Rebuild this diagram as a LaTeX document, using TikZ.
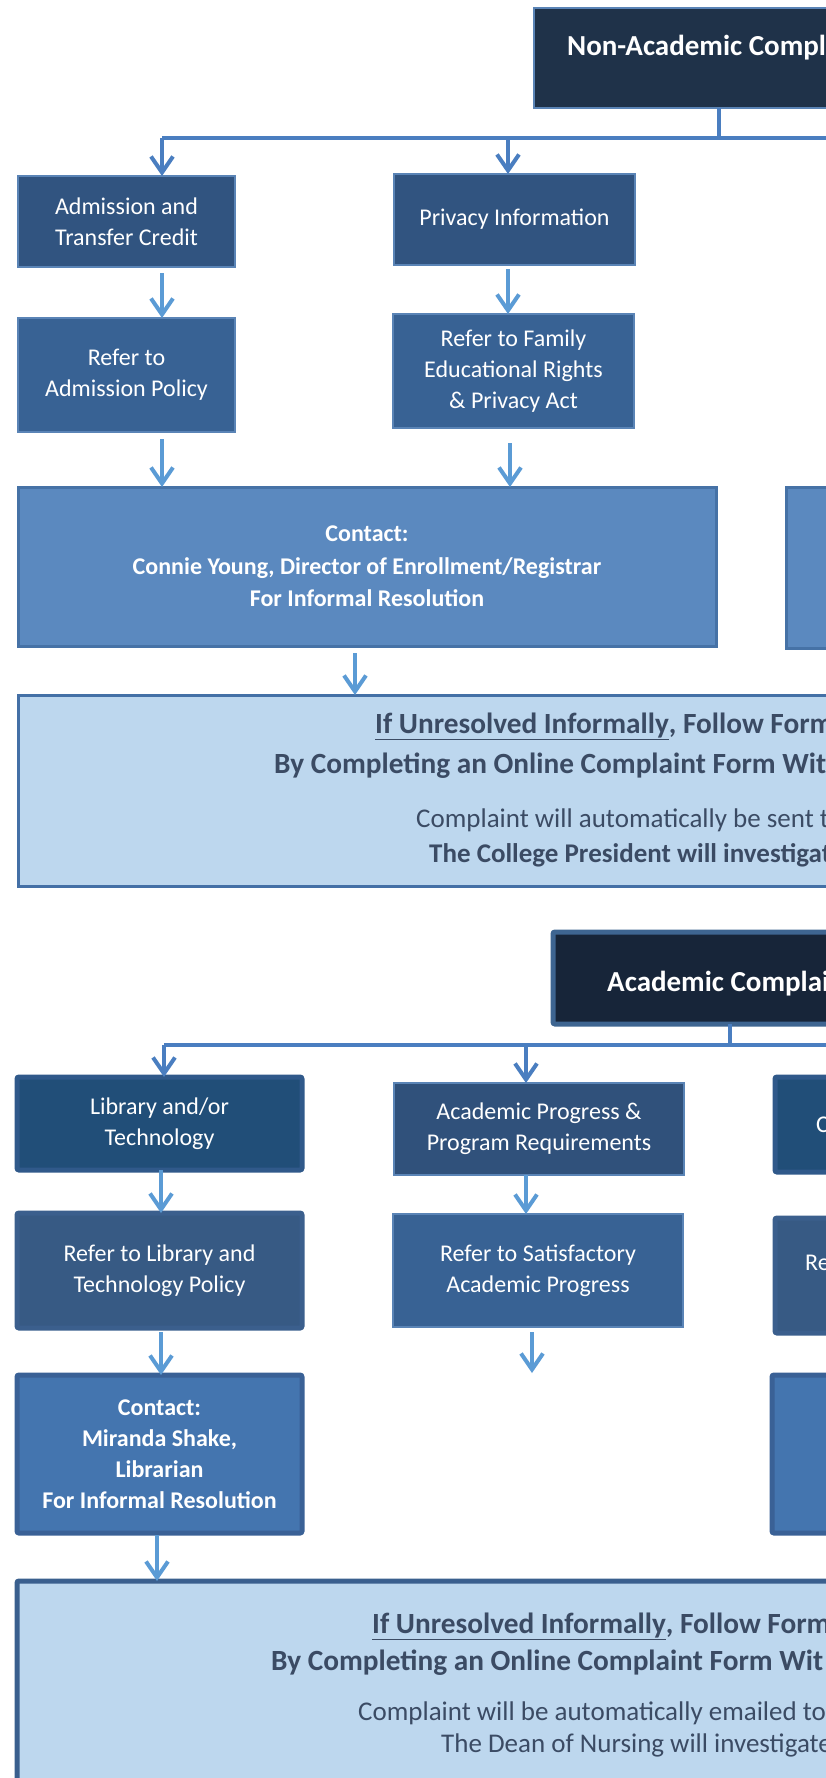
\documentclass[tikz,border=0pt]{standalone}
\usepackage{fontspec}
\setmainfont{Carlito}
\usetikzlibrary{arrows.meta,calc}
\definecolor{navyA}{HTML}{1F3249}
\definecolor{navyB}{HTML}{172539}
\definecolor{edgeLight}{HTML}{5A84B6}
\definecolor{edgeMid}{HTML}{3E6591}
\definecolor{boxA}{HTML}{315480}
\definecolor{boxB}{HTML}{386294}
\definecolor{boxC}{HTML}{5B89BF}
\definecolor{boxCedge}{HTML}{4672A6}
\definecolor{paleFill}{HTML}{BDD7EE}
\definecolor{paleEdge}{HTML}{4470A6}
\definecolor{paleEdgeB}{HTML}{3A5F8E}
\definecolor{libFill}{HTML}{214E78}
\definecolor{libEdge}{HTML}{30598A}
\definecolor{refLib}{HTML}{375A84}
\definecolor{refLibEdge}{HTML}{3B5F8D}
\definecolor{progFill}{HTML}{30517B}
\definecolor{miraFill}{HTML}{4475AF}
\definecolor{miraEdge}{HTML}{3A6196}
\definecolor{txtDark}{HTML}{3B4B64}
\definecolor{arrLight}{HTML}{5B9BD5}
\definecolor{arrDark}{HTML}{4A7EC0}
\begin{document}
\begin{tikzpicture}[x=1pt,y=-1pt,
  box/.style={rectangle,inner sep=0pt,outer sep=0pt,text=white,align=center,
    font=\fontsize{24}{31}\selectfont},
  thinbox/.style={box,draw=edgeLight,line width=2pt},
  thickbox/.style={box,line width=5pt,rounded corners=2pt},
  bigtxt/.style={anchor=base west,inner sep=0pt,text=txtDark,font=\fontsize{27}{32}\selectfont},
  bighead/.style={bigtxt,font=\fontsize{29.3}{34}\selectfont\bfseries},
  titletxt/.style={anchor=base west,inner sep=0pt,text=white,font=\fontsize{29}{34}\selectfont\bfseries},
  fragtxt/.style={anchor=base west,inner sep=0pt,text=white,font=\fontsize{24}{31}\selectfont},
  conn/.style={draw=arrDark,line width=4pt},
  arrD/.style={draw=arrDark,line width=4pt,-{Straight Barb[length=16pt,width=22pt,line width=4pt]}},
  arrL/.style={draw=arrLight,line width=4pt,-{Straight Barb[length=16pt,width=22pt,line width=4pt]}}
]
\useasboundingbox (0,0) rectangle (826,1778);
\clip (0,0) rectangle (826,1778);

% ================= Non-academic section =================
\node[box,fill=navyA,draw=edgeLight,line width=2pt,minimum width=370pt,minimum height=100pt] (t1) at (719,58) {};
\node[titletxt] (t1txt) at (567,55) {Non-Academic Compl};

\coordinate (j1) at (719,138);
\coordinate (h1L) at (162,138);
\coordinate (h1M) at (508,138);
\coordinate (h1R) at (840,138);
\draw[conn] (t1.south) -- (j1);
\draw[conn] (h1L) -- (h1R);

\node[thinbox,fill=boxA,minimum width=217pt,minimum height=91pt] (a1) at (126.5,221.5) {Admission and\\Transfer Credit};
\node[thinbox,fill=boxA,minimum width=241pt,minimum height=91pt] (a2) at (514.5,219.5) {Privacy Information};
\draw[arrD] (h1L) -- (h1L |- a1.north);
\draw[arrD] (h1M) -- (h1M |- a2.north);

\node[thinbox,fill=boxB,minimum width=217pt,minimum height=114pt] (b1) at (126.5,375) {Refer to\\Admission Policy};
\node[thinbox,fill=boxB,minimum width=241pt,minimum height=114pt] (b2) at (513.5,371) {Refer to Family\\Educational Rights\\\& Privacy Act};
\draw[arrL] ($(h1L |- a1.south)+(0,6)$) -- (h1L |- b1.north);
\draw[arrL] ($(h1M |- a2.south)+(0,4)$) -- (h1M |- b2.north);

\node[box,fill=boxC,draw=boxCedge,line width=3pt,minimum width=698pt,minimum height=159pt,font=\fontsize{24}{32.5}\selectfont\bfseries] (c1) at (367,566.5)
  {Contact:\\Connie Young, Director of Enrollment/Registrar\\For Informal Resolution};
\node[box,fill=boxC,draw=boxCedge,line width=3pt,minimum width=200pt,minimum height=161pt] (c2) at (886,567.5) {};
\draw[arrL] ($(h1L |- b1.south)+(0,7)$) -- (h1L |- c1.north);
\draw[arrL] ($(h1M |- b2.south)+(2,15)$) -- ($(h1M |- c1.north)+(2,0)$);

\node[box,fill=paleFill,draw=paleEdge,line width=3pt,minimum width=900pt,minimum height=191pt] (d1) at (468,790.5) {};
\draw[arrL] ($(c1.south)+(-12,7)$) -- ($(c1.south |- d1.north)+(-12,0)$);
\node[bighead] (d1l1) at (375,733) {\underline{If Unresolved Informally}, Follow Form};
\node[bighead] (d1l2) at (274,773) {By Completing an Online Complaint Form Wit};
\node[bigtxt] (d1l3) at (416,827) {Complaint will automatically be sent t};
\node[bigtxt,font=\fontsize{27}{32}\selectfont\bfseries] (d1l4) at (429,862) {The College President will investigat};

% ================= Academic section =================
\node[thickbox,fill=navyB,draw=edgeMid,minimum width=354pt,minimum height=92pt] (t2) at (730,978) {};
\node[titletxt] (t2txt) at (607,991) {Academic Complai};

\coordinate (j2) at (730,1045);
\coordinate (h2L) at (164,1045);
\coordinate (h2M) at (526,1045);
\coordinate (h2R) at (840,1045);
\draw[conn] (t2.south) -- (j2);
\draw[conn] (h2L) -- (h2R);

\node[thickbox,fill=libFill,draw=libEdge,minimum width=285pt,minimum height=93pt] (e1) at (159.5,1123.5) {Library and/or\\Technology};
\node[thinbox,fill=progFill,minimum width=290pt,minimum height=92pt] (e2) at (539,1129) {Academic Progress \&\\Program Requirements};
\node[thickbox,fill=libFill,draw=libEdge,minimum width=200pt,minimum height=95pt] (e3) at (875,1124.5) {};
\node[fragtxt] (e3txt) at (816,1132) {C};
\draw[arrD] (h2L) -- (h2L |- e1.north);
\draw[arrD] (h2M) -- (h2M |- e2.north);

\node[thickbox,fill=refLib,draw=refLibEdge,minimum width=285pt,minimum height=115pt] (f1) at (159.5,1270.5) {Refer to Library and\\Technology Policy};
\node[thinbox,fill=boxB,minimum width=290pt,minimum height=113pt] (f2) at (538,1270.5) {Refer to Satisfactory\\Academic Progress};
\node[thickbox,fill=refLib,draw=refLibEdge,minimum width=200pt,minimum height=115pt] (f3) at (875,1275.5) {};
\node[fragtxt] (f3txt) at (805,1270) {Re};
\coordinate (xL) at (161,0);
\coordinate (xM) at (532,0);
\draw[arrL] (xL |- e1.south) -- (xL |- f1.north);
\draw[arrL] (h2M |- e2.south) -- (h2M |- f2.north);

\node[thickbox,fill=miraFill,draw=miraEdge,minimum width=285pt,minimum height=158pt,font=\fontsize{24}{31}\selectfont\bfseries] (g1) at (159.5,1454)
  {Contact:\\Miranda Shake,\\Librarian\\For Informal Resolution};
\node[thickbox,fill=miraFill,draw=miraEdge,minimum width=200pt,minimum height=158pt] (g3) at (872,1454) {};
\coordinate (g2end) at (532,1373);
\draw[arrL] ($(xL |- f1.south)+(0,4)$) -- (xL |- g1.north);
\draw[arrL] ($(xM |- f2.south)+(0,5)$) -- (g2end);

\node[thickbox,fill=paleFill,draw=paleEdgeB,minimum width=900pt,minimum height=260pt] (h2) at (467,1711) {};
\coordinate (xH) at (157,0);
\draw[arrL] ($(xH |- g1.south)+(0,2)$) -- (xH |- h2.north);
\node[bighead] (h2l1) at (372,1633) {\underline{If Unresolved Informally}, Follow Form};
\node[bighead] (h2l2) at (271,1670) {By Completing an Online Complaint Form Wit};
\node[bigtxt] (h2l3) at (358,1720) {Complaint will be automatically emailed to};
\node[bigtxt] (h2l4) at (441,1752) {The Dean of Nursing will investigate};
\end{tikzpicture}
\end{document}
